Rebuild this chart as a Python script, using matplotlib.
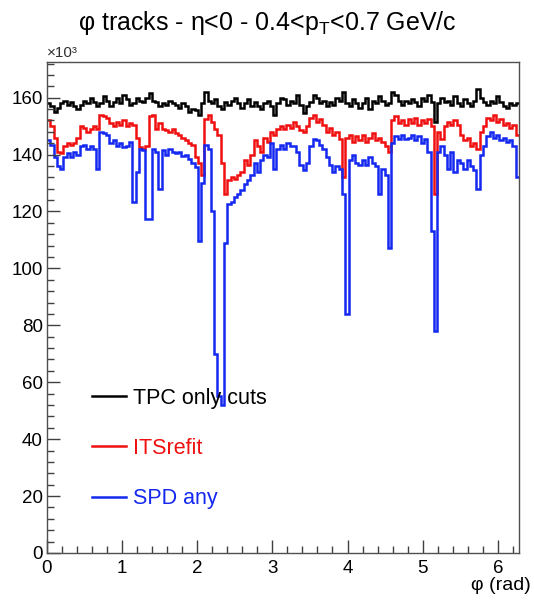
import matplotlib
matplotlib.use("Agg")
import matplotlib.pyplot as plt
import numpy as np
from matplotlib.ticker import MultipleLocator

plt.rcParams.update({
    "font.family": ["Liberation Sans", "DejaVu Sans"],
    "mathtext.default": "regular",
    "axes.linewidth": 1.0,
    "axes.edgecolor": "#505050",
})

# phi histogram, 144 bins over [0, 2pi], counts in units of 10^3
n_bins = 144
phi_min, phi_max = 0.0, 2 * np.pi

tpc_only = [
    158, 157, 155, 156.5, 158, 159, 157.5, 158.5, 157, 156,
    157.5, 159, 158, 160, 158.5, 157, 158, 160.5, 159, 157,
    158.5, 160, 158, 161, 159.5, 157.5, 158, 160, 159, 158.5,
    160, 161.5, 159, 158.5, 157, 158, 157.5, 159, 158, 157.5,
    156.5, 158, 157, 155, 156, 155.5, 154, 158, 162, 159,
    158, 159.5, 157, 156, 158.5, 157.5, 159, 160, 158, 156.5,
    158, 159.5, 157, 158.5, 157, 156, 158, 159, 157, 154,
    158, 160, 159.5, 157.5, 159, 158, 161, 157.5, 154.5, 157,
    158.5, 161, 160, 158, 159, 157, 158.5, 157.5, 160, 159,
    162, 158, 157, 159.5, 158, 156.5, 158, 160, 156, 159,
    158, 160.5, 159, 157.5, 158, 162, 161, 159, 157.5, 159,
    158, 159.5, 158.5, 157, 160, 159, 161, 158.5, 151.5, 158,
    160, 158.5, 159, 157.5, 160.5, 158, 157, 159.5, 158, 157,
    159, 163, 160, 158.5, 157.5, 159, 158, 160.5, 158.5, 157,
    156.5, 158, 157.5, 158,
]

its_refit = [
    152, 150, 146, 141, 140.5, 143, 144, 143.5, 144, 146,
    150, 149.5, 148, 149, 150, 149, 154, 153.5, 153, 151,
    150, 151.5, 150.5, 152, 150, 151, 150.5, 146, 142.5, 142,
    143, 153.5, 154, 149, 151, 149, 148.5, 148, 149, 147.5,
    147, 146, 145, 144, 143.5, 139, 137, 133, 152.5, 154,
    151.5, 149, 147, 137, 126, 131, 132, 131.5, 133, 134,
    138, 136.5, 140, 145, 143, 141, 146, 144.5, 148, 147,
    149, 150, 149, 150.5, 149.5, 151.5, 150, 148.5, 148, 150,
    153, 154, 151.5, 152.5, 150.5, 148, 149.5, 147, 148, 145.5,
    132, 146, 147, 144.5, 146.5, 145, 147, 144.5, 146, 147.5,
    145, 146, 144.5, 143, 141, 152, 153.5, 151, 152, 150.5,
    152.5, 151, 153, 150.5, 152, 151, 152.5, 150, 126, 148,
    145.5, 150, 151.5, 150.5, 152, 150.5, 147, 145, 146, 143,
    144, 142, 148, 150, 153, 152, 154, 151.5, 152.5, 150.5,
    151, 149.5, 150.5, 147,
]

spd_any = [
    145, 143.5, 139, 136, 135, 139, 140.5, 139, 141, 140,
    143, 143.5, 142, 143, 142, 135, 148, 147.5, 147, 144,
    145, 143, 144, 142.5, 143, 144.5, 123.5, 134, 142, 141.5,
    117.5, 117.5, 142, 141, 128, 141.5, 140, 142, 141, 140.5,
    141, 139.5, 140, 138.5, 137, 135.5, 109.5, 130, 143.5, 142,
    120, 70, 55, 52, 109, 122.5, 123.5, 125, 126, 127.5,
    129.5, 131, 133, 137, 134, 138, 140, 139, 144, 135,
    142, 143.5, 142, 144, 143, 143, 141, 136.5, 134.5, 137,
    143, 145.5, 145, 143.5, 142, 139, 136.5, 134, 136, 135,
    126, 84, 138, 140, 137, 136.5, 138, 136.5, 139, 137,
    136, 126, 135, 133, 107, 144, 146.5, 145.5, 147, 145.5,
    146, 147, 145, 146.5, 144, 145.5, 141, 113, 78, 141,
    143, 140, 135, 141, 134, 138, 137, 135, 138, 136,
    134.5, 128, 140, 143, 146.5, 148, 146, 147, 145, 146,
    144.5, 145, 143, 132,
]

labels = ["TPC only cuts", "ITSrefit", "SPD any"]
colors = ["black", "#f01010", "#1428f0"]

edges = np.linspace(phi_min, phi_max, n_bins + 1)

fig = plt.figure(figsize=(5.34, 6.03), dpi=100)
ax = fig.add_axes([0.088, 0.083, 0.884, 0.814])

for data, name, col in zip([tpc_only, its_refit, spd_any], labels, colors):
    ax.stairs(data, edges, baseline=None, color=col, linewidth=1.8, label=name)

ax.set_xlim(phi_min, phi_max)
ax.set_ylim(0, 172.5)

ax.xaxis.set_major_locator(MultipleLocator(1))
ax.xaxis.set_minor_locator(MultipleLocator(0.2))
ax.yaxis.set_major_locator(MultipleLocator(20))
ax.yaxis.set_minor_locator(MultipleLocator(4))
ax.tick_params(which="both", direction="in", top=False, right=False,
               color="#404040", width=1.0)
ax.tick_params(which="major", length=9.5, labelsize=13.5, pad=3)
ax.tick_params(which="minor", length=5)
ax.tick_params(axis="x", which="major", pad=5)

ax.set_xlabel("φ (rad)", fontsize=14, loc="right")
ax.xaxis.set_label_coords(1.025, -0.05)

ax.text(0.0, 1.005, "×10³", transform=ax.transAxes, fontsize=11,
        ha="left", va="bottom", color="#303030")

fig.suptitle("φ tracks - η<0 - 0.4<p$_T$<0.7 GeV/c", fontsize=18, y=0.985)

ax.legend(loc="upper left", bbox_to_anchor=(0.095, 0.337), frameon=False,
          fontsize=15.5, handlelength=1.6, handletextpad=0.3,
          labelspacing=1.36, borderpad=0, borderaxespad=0,
          labelcolor="linecolor")

fig.savefig("out.png", dpi=100)
